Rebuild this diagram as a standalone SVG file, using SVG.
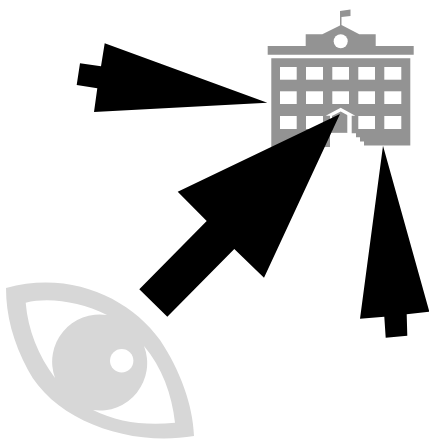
<svg xmlns="http://www.w3.org/2000/svg" width="429" height="441" viewBox="0 0 429 441">
<style>.b{fill:#939393}.w{fill:#fff}.e{fill:#d7d7d7}.a{fill:#000}</style>
<rect width="429" height="441" fill="#fff"/>
<g id="building">
<path class="b" d="M340 25.500V11L350.500 9.500V16L341.500 17V25L359.300 34.300H375.700V46H413.700V54.700H267.700V46H305.700V34.300H322.300Z"/>
<circle class="w" cx="340.700" cy="41.300" r="7"/>
<path class="b" d="M271.300 58.300H410.300V145.500H364V141.500H360V137.300H356V133.300H351.700V115H330V132.300H347.300V133H330V147H271.300Z"/>
<g class="w">
<rect x="280" y="67" width="16.700" height="12.700"/><rect x="306" y="67" width="17" height="12.700"/><rect x="332.300" y="67" width="16.700" height="12.700"/><rect x="358.300" y="67" width="16.700" height="12.700"/><rect x="384.300" y="67" width="17" height="12.700"/>
<rect x="280" y="91.300" width="16.700" height="12.700"/><rect x="306" y="91.300" width="17" height="12.700"/><rect x="332.300" y="91.300" width="16.700" height="12.700"/><rect x="358.300" y="91.300" width="16.700" height="12.700"/><rect x="384.300" y="91.300" width="17" height="12.700"/>
<rect x="280" y="116" width="16.700" height="13"/><rect x="306" y="116" width="17" height="13"/><rect x="358.300" y="116" width="16.700" height="13"/><rect x="384.300" y="116" width="17" height="13"/>
</g>
<path class="b" d="M332 114H347.300V132.300H332Z"/>
<path class="w" d="M325.700 115.700L340.700 107.700L355.300 115.700H348.500L340.700 111.500L332.500 115.700Z"/>
</g>
<g id="eye">
<path class="e" fill-rule="evenodd" d="M6 288C70 270 130 298 160 340C180 370 193 405 194 436C130 447 55 421 28 370C13 342 6 315 6 288ZM25.700 302.700C50 297 80 302 107 315A47.400 47.400 0 0 0 55 378C38 355 28 330 25.700 302.700ZM144 346C162 367 172 395 175 422.700C145 426 117 422 93 410A47.400 47.400 0 0 0 144 346Z"/>
<circle class="w" cx="121.700" cy="360.700" r="11.700"/>
</g>
<g id="connectors">
<path class="a" d="M267.300 102.700L94 112L97.300 88.300L76.700 85L80 63.300L101 66.300L104.700 43.300Z"/>
<path class="a" d="M340 114L264 277.700L234.300 249L167.300 316.700L139.300 289.300L206.700 221L177.700 191.700Z"/>
<path class="a" d="M383 145.700L429.300 311.700L406.700 314.300L407.300 335.700L385.700 337.700L384.300 316.700L360 318.700Z"/>
</g>
</svg>
